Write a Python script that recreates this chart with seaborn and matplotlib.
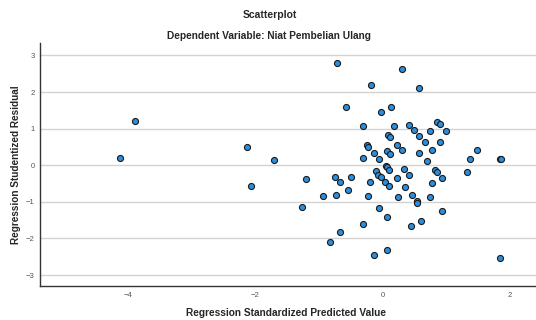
import matplotlib
matplotlib.use("Agg")
import matplotlib.pyplot as plt
import seaborn as sns
import pandas as pd

# Regression Standardized Predicted Value (x) and Studentized Residual (y)
pred = [-4.12, -3.89, -2.13, -2.07, -1.70,
        -0.71, 0.30, -0.18, 0.575, -0.58, -0.03, 0.135, -0.31, 0.18, 0.41,
        0.85, 0.895, 0.50, 0.75, 0.99, 0.08, 0.11, 0.58, 0.66, 0.91,
        0.22, -0.24, -0.23, -0.14, 0.07, 0.12, 0.30, 0.58, 0.78, -0.31,
        -0.06, 0.70, 1.37, 1.49, 1.85, 1.86, -1.20, -0.74, -0.67, -0.50,
        -0.94, -0.73, -0.55, -1.27, -0.23, -0.19, 0.05, 0.07, 0.10, -0.11,
        -0.07, -0.03, 0.04, 0.10, 0.22, 0.33, 0.41, 0.35, 0.25, 0.465,
        0.54, 0.54, 0.74, 0.83, 0.86, 0.94, 0.78, 1.32, -0.06, 0.07,
        0.93, -0.31, 0.61, 0.44, -0.67, -0.83, 0.07, -0.13, 1.84]
resid = [0.21, 1.22, 0.50, -0.57, 0.145,
         2.79, 2.63, 2.19, 2.11, 1.60, 1.46, 1.60, 1.08, 1.07, 1.09,
         1.18, 1.12, 0.95, 0.94, 0.93, 0.82, 0.77, 0.79, 0.64, 0.63,
         0.56, 0.54, 0.49, 0.34, 0.39, 0.30, 0.41, 0.34, 0.42, 0.20,
         0.18, 0.12, 0.17, 0.41, 0.18, 0.16, -0.37, -0.32, -0.47, -0.33,
         -0.85, -0.80, -0.69, -1.15, -0.85, -0.47, -0.03, -0.06, -0.13, -0.17,
         -0.26, -0.33, -0.46, -0.57, -0.34, -0.11, -0.27, -0.59, -0.86, -0.81,
         -0.97, -1.03, -0.87, -0.13, -0.19, -0.35, -0.49, -0.18, -1.16, -1.41,
         -1.24, -1.60, -1.52, -1.67, -1.82, -2.10, -2.31, -2.46, -2.53]

title = "Scatterplot"
subtitle = "Dependent Variable: Niat Pembelian Ulang"
xlabel = "Regression Standardized Predicted Value"
ylabel = "Regression Studentized Residual"
xticks = [-4, -2, 0, 2]
yticks = [-3, -2, -1, 0, 1, 2, 3]

df = pd.DataFrame({"pred": pred, "resid": resid})

sns.set_style("white")
plt.rcParams["font.family"] = ["Liberation Sans", "DejaVu Sans"]

fig = plt.figure(figsize=(5.36, 3.2), dpi=100)
ax = fig.add_axes([40/536, 1-286/320, 1-40/536, (286-43)/320])

sns.scatterplot(data=df, x="pred", y="resid", ax=ax, s=19,
                color="#2a8fe0", edgecolor="#1a1a1a", linewidth=0.8, zorder=3)

ax.set_xlim(-5.38, 2.41)
ax.set_ylim(-3.30, 3.34)
ax.set_xticks(xticks)
ax.set_yticks(yticks)
ax.tick_params(axis="both", labelsize=5.5, labelcolor="#555555", length=0, pad=4)
ax.yaxis.grid(True, color="#d2d2d2", linewidth=1.0, zorder=0)
ax.xaxis.grid(False)
ax.set_axisbelow(True)
for side in ["top", "right"]:
    ax.spines[side].set_visible(False)
for side in ["left", "bottom"]:
    ax.spines[side].set_color("#333333")
    ax.spines[side].set_linewidth(1.0)
ax.set_xlabel("")
ax.set_ylabel("")

fig.text(270/536, 1-15/320, title, ha="center", va="center", fontsize=7.5, fontweight="bold")
fig.text(269/536, 1-36/320, subtitle, ha="center", va="center", fontsize=7.3, fontweight="bold")
fig.text(286/536, 1-313/320, xlabel, ha="center", va="center", fontsize=7.3, fontweight="bold")
fig.text(16/536, 1-165/320, ylabel, ha="center", va="center", fontsize=7.2, fontweight="bold", rotation=90)

fig.savefig("out.png", dpi=100)
